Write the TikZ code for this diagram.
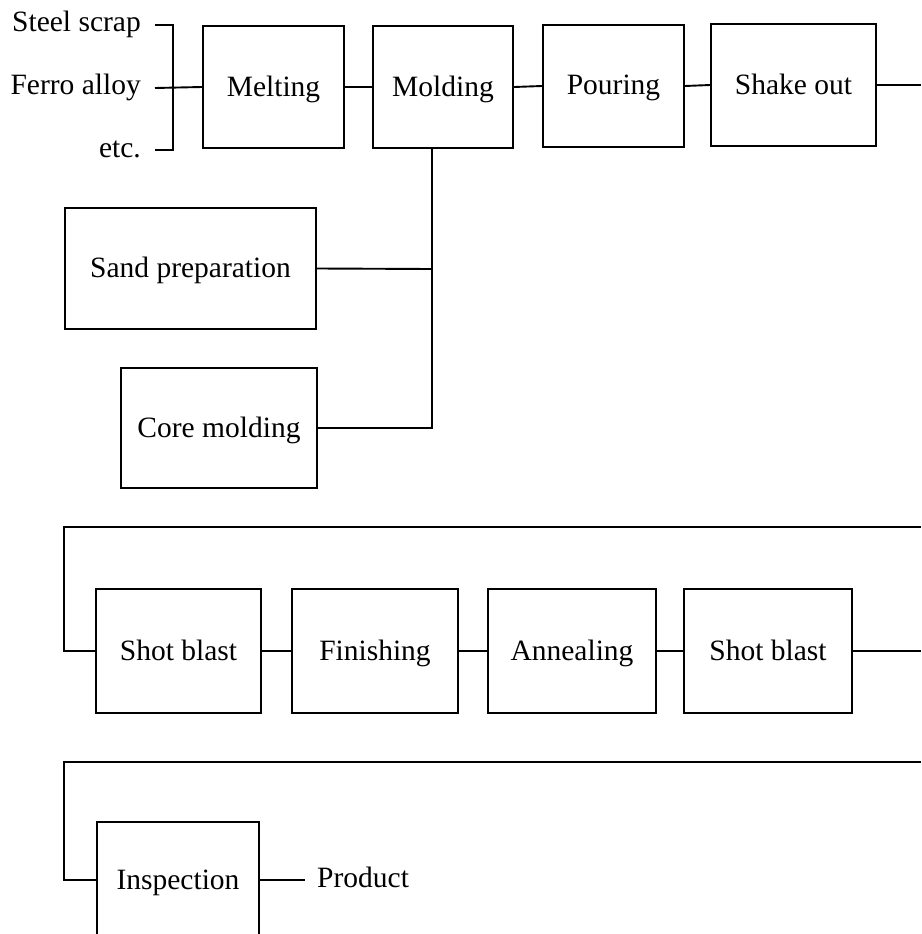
\documentclass[tikz,border=0pt]{standalone}
\usepackage{fontspec}
\setmainfont{Liberation Serif}
\begin{document}
\begin{tikzpicture}[x=1pt,y=-1pt,
  every node/.style={font=\fontsize{29.5}{34}\selectfont},
  stepbox/.style={draw, line width=1.9pt, inner sep=0pt, minimum height=122pt,
    text height=20pt, text depth=2pt},
  label/.style={inner sep=0pt, text height=20pt, text depth=6pt},
  link/.style={line width=1.9pt}]
\useasboundingbox (0,0) rectangle (921,934);
\clip (0,0) rectangle (921,934);

% --- raw materials ---
\node[label, anchor=east] (scrap) at (141,25) {Steel scrap};
\node[label, anchor=east] (ferro) at (141,88) {Ferro alloy};
\node[label, anchor=east] (etc)   at (141,150) {etc.};
\coordinate (bt) at (173,25);
\coordinate (bm) at (173,88);
\coordinate (bb) at (173,150);

% --- first row ---
\node[stepbox, minimum width=141pt] (melt)  at (273.5,87) {Melting};
\node[stepbox, minimum width=140pt] (mold)  at (443,87)   {Molding};
\node[stepbox, minimum width=141pt] (pour)  at (613.5,86) {Pouring};
\node[stepbox, minimum width=165pt] (shake) at (793.5,85) {Shake out};

% --- supply lines to molding ---
\node[stepbox, minimum width=251pt, minimum height=121pt] (sand) at (190.5,268.5) {Sand preparation};
\node[stepbox, minimum width=196pt, minimum height=120pt] (core) at (219,428) {Core molding};
\coordinate (mt) at (432,148);
\coordinate (ms) at (432,269);
\coordinate (mc) at (432,428);

% --- second row ---
\node[stepbox, minimum width=165pt, minimum height=124pt] (shotA) at (178.5,651) {Shot blast};
\node[stepbox, minimum width=166pt, minimum height=124pt] (fin)   at (375,651)   {Finishing};
\node[stepbox, minimum width=168pt, minimum height=124pt] (ann)   at (572,651)   {Annealing};
\node[stepbox, minimum width=168pt, minimum height=124pt] (shotB) at (768,651)   {Shot blast};

% --- third row ---
\node[stepbox, minimum width=162pt, minimum height=116pt] (insp) at (178,880) {Inspection};
\node[label, anchor=west] (prod) at (317,880) {Product};

% turn-around points of the loops
\coordinate (r1) at (921,85);
\coordinate (l1r) at (921,527);
\coordinate (l1l) at (64,527);
\coordinate (l1d) at (64,651);
\coordinate (r2) at (921,651);
\coordinate (l2r) at (921,762);
\coordinate (l2l) at (64,762);
\coordinate (l2d) at (64,880);

% raw material bracket
\draw[link] ([xshift=14pt]scrap.east) -- (bt) -- (bb) -- ([xshift=14pt]etc.east);
\draw[link] ([xshift=14pt]ferro.east) -- (melt.west);

% first row connectors
\draw[link] (melt.east) -- (mold.west);
\draw[link] (mold.east) -- (pour.west);
\draw[link] (pour.east) -- (shake.west);
\draw[link] (shake.east) -- (r1);

% molding supplies
\draw[link] (mt) -- (mc) -- (core.east);
\draw[link] (sand.east) -- (ms);

% second row
\draw[link] (l1r) -- (l1l) -- (l1d) -- (shotA.west);
\draw[link] (shotA.east) -- (fin.west);
\draw[link] (fin.east) -- (ann.west);
\draw[link] (ann.east) -- (shotB.west);
\draw[link] (shotB.east) -- (r2);

% third row
\draw[link] (l2r) -- (l2l) -- (l2d) -- (insp.west);
\draw[link] (insp.east) -- ([xshift=-12pt]prod.west);
\end{tikzpicture}
\end{document}
